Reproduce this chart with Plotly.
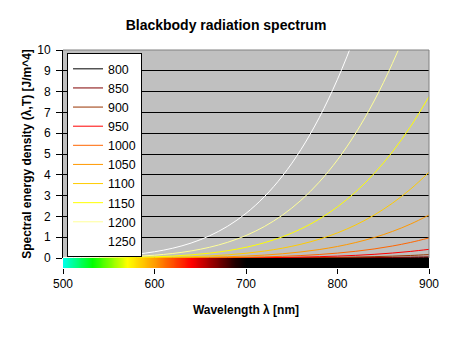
import plotly.graph_objects as go

# Wavelengths (nm) at which values were read
wavelength_nm = [500, 520, 540, 560, 580, 600, 620, 640, 660, 680, 700,
                 720, 740, 760, 780, 800, 820, 840, 860, 880, 900]

temperatures = [800, 850, 900, 950, 1000, 1050, 1100, 1150, 1200, 1250]

u_800 = [0.00000004, 0.00000013, 0.00000037, 0.000001, 0.0000026, 0.0000062, 0.000014,
         0.000029, 0.000058, 0.000112, 0.000206, 0.000366, 0.000627, 0.00104, 0.00167,
         0.00262, 0.00402, 0.0060, 0.00878, 0.01259, 0.01772]
u_850 = [0.00000032, 0.00000096, 0.0000026, 0.0000068, 0.000016, 0.000036, 0.000076,
         0.000152, 0.00029, 0.000531, 0.000935, 0.00159, 0.00262, 0.00418, 0.0065,
         0.00986, 0.0146, 0.02115, 0.03005, 0.04188, 0.05739]
u_900 = [0.0000021, 0.0000058, 0.000015, 0.000036, 0.000081, 0.000172, 0.000346,
         0.00066, 0.001205, 0.002117, 0.00358, 0.00587, 0.00934, 0.01442, 0.02171,
         0.03194, 0.04596, 0.0648, 0.08967, 0.122, 0.1632]
u_950 = [0.0000112, 0.0000294, 0.000072, 0.000163, 0.000348, 0.0007, 0.001341,
         0.002455, 0.00431, 0.007296, 0.01192, 0.01889, 0.02909, 0.04362, 0.06382,
         0.09141, 0.1282, 0.1764, 0.2385, 0.3173, 0.4157]
u_1000 = [0.0000508, 0.000126, 0.000292, 0.00063, 0.001281, 0.002473, 0.004546,
          0.008014, 0.01358, 0.02221, 0.03518, 0.05408, 0.08093, 0.1181, 0.1685,
          0.2355, 0.3228, 0.4346, 0.5754, 0.7502, 0.9642]
u_1050 = [0.0002, 0.000472, 0.001037, 0.002141, 0.004174, 0.007747, 0.01373,
          0.02338, 0.03836, 0.06084, 0.0936, 0.14, 0.2043, 0.291, 0.4057,
          0.5546, 0.7445, 0.9824, 1.2763, 1.6343, 2.0643]
u_1100 = [0.000696, 0.001565, 0.003288, 0.00651, 0.01222, 0.02188, 0.03752,
          0.06188, 0.09856, 0.152, 0.2279, 0.3326, 0.474, 0.6604, 0.9016,
          1.2082, 1.5912, 2.062, 2.6332, 3.3168, 4.124]
u_1150 = [0.00217, 0.004667, 0.00943, 0.01797, 0.03258, 0.05644, 0.09385,
          0.1504, 0.2333, 0.3509, 0.5135, 0.7328, 1.022, 1.3956, 1.8692,
          2.4596, 3.1836, 4.0584, 5.1012, 6.3299, 7.7573]
u_1200 = [0.00616, 0.01272, 0.02474, 0.04559, 0.08, 0.1345, 0.2176,
          0.3397, 0.5139, 0.7553, 1.0813, 1.5115, 2.0673, 2.7713, 3.6469,
          4.7187, 6.0122, 7.5491, 9.353, 11.446, 13.846]
u_1250 = [0.01605, 0.032, 0.0601, 0.1073, 0.183, 0.2993, 0.4716,
          0.7188, 1.0629, 1.5291, 2.1456, 2.9427, 3.9524, 5.2088, 6.7444,
          8.5943, 10.79, 13.36, 16.34, 19.74, 23.6]

series = [u_800, u_850, u_900, u_950, u_1000, u_1050, u_1100, u_1150, u_1200, u_1250]
line_colors = ["#000000", "#800000", "#993300", "#FF0000", "#FF6600",
               "#FF9900", "#FFCC00", "#FFFF00", "#FFFF99", "#FFFFFF"]

# visible-spectrum colour strip
strip_nm = list(range(500, 901, 4))
strip_scale = [[0.0, "#00FFE8"], [0.08, "#00FF00"], [0.175, "#FFFF00"],
               [0.25, "#FF9900"], [0.35, "#FF0000"], [0.42, "#800000"],
               [0.47, "#200000"], [0.5, "#000000"], [1.0, "#000000"]]

FONT = "Liberation Sans, Arial, sans-serif"

fig = go.Figure()

fig.add_trace(go.Heatmap(
    x=strip_nm, y=[0], z=[strip_nm], zmin=500, zmax=900,
    colorscale=strip_scale, zsmooth="best", showscale=False,
    xaxis="x", yaxis="y2", hoverinfo="skip", showlegend=False))

for t, vals, col in zip(temperatures, series, line_colors):
    fig.add_trace(go.Scatter(
        x=wavelength_nm, y=vals, mode="lines", name=str(t),
        line=dict(color=col, width=1, shape="spline"),
        xaxis="x", yaxis="y"))

strip_frac = 10 / 218

fig.update_layout(
    width=452, height=338,
    margin=dict(l=63, r=23, t=50, b=70),
    paper_bgcolor="white", plot_bgcolor="#C0C0C0",
    font=dict(family=FONT, size=12, color="black"),
    title=dict(text="<b>Blackbody radiation spectrum</b>", x=0.5, xanchor="center",
               y=1 - 25 / 338, yanchor="middle", font=dict(size=14, family=FONT)),
    xaxis=dict(range=[500, 900], dtick=100, tick0=500, anchor="y2",
               showgrid=False, zeroline=False, showline=False,
               ticks="outside", ticklen=5, tickcolor="black",
               title=dict(text="<b>Wavelength λ [nm]</b>", standoff=15,
                          font=dict(size=12)),
               automargin=False),
    yaxis=dict(range=[0, 10], dtick=1, domain=[strip_frac, 1], anchor="x",
               showgrid=True, gridcolor="black", gridwidth=1,
               zeroline=True, zerolinecolor="black", zerolinewidth=1,
               showline=True, linecolor="black", linewidth=1,
               ticks="outside", ticklen=6, tickcolor="black", ticklabelstandoff=3,
               title=dict(text="<b>Spectral energy density (λ,T) [J/m^4]</b>",
                          standoff=3, font=dict(size=12)),
               automargin=False),
    yaxis2=dict(domain=[0, strip_frac], range=[-0.5, 0.5], visible=False,
                anchor="x"),
    legend=dict(x=0.011, y=0.985, xanchor="left", yanchor="top",
                bgcolor="white", bordercolor="black", borderwidth=1,
                font=dict(size=12.4, family=FONT), traceorder="normal"),
    showlegend=True,
)

# grey border on top and right of the plot area
fig.add_shape(type="line", xref="paper", yref="paper", x0=0, x1=1, y0=1, y1=1,
              line=dict(color="#808080", width=1))
fig.add_shape(type="line", xref="paper", yref="paper", x0=1, x1=1,
              y0=strip_frac, y1=1, line=dict(color="#808080", width=1))

fig.write_html("out.html")
